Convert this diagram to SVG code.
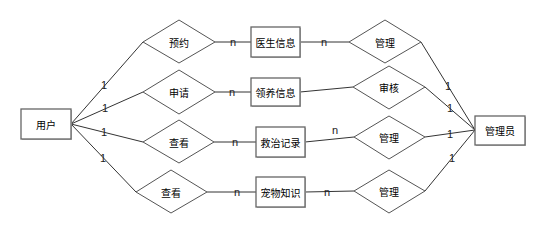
<svg xmlns="http://www.w3.org/2000/svg" width="552" height="242" viewBox="0 0 552 242">
<style>
.e{fill:#fff;stroke:#666;stroke-width:1.3}
.d{fill:#fff;stroke:#555;stroke-width:1}
.t{font-family:"Noto Sans CJK SC","Noto Sans",sans-serif;font-size:10px;fill:#000;text-anchor:middle;dominant-baseline:central}
.l{font-family:"Liberation Sans",Arial,sans-serif;font-size:11px;fill:#222;text-anchor:middle;dominant-baseline:central}
.c line{stroke:#333;stroke-width:1}
.s{fill:#bbb}
</style>
<rect width="552" height="242" fill="#fff"/>
<g class="c" id="connectors">
<line x1="71" y1="124" x2="143" y2="42"/>
<line x1="71" y1="124" x2="143" y2="92"/>
<line x1="71" y1="124" x2="143" y2="142"/>
<line x1="71" y1="124" x2="136" y2="192"/>
<line x1="215" y1="42" x2="251" y2="42"/>
<line x1="215" y1="92" x2="251" y2="92"/>
<line x1="214" y1="142" x2="256" y2="142"/>
<line x1="207" y1="192" x2="256" y2="192"/>
<line x1="300" y1="42" x2="349" y2="42"/>
<line x1="300" y1="92" x2="353" y2="87"/>
<line x1="305" y1="142" x2="354" y2="137"/>
<line x1="305" y1="192" x2="354" y2="191"/>
<line x1="421" y1="42" x2="475" y2="130"/>
<line x1="425" y1="87" x2="475" y2="130"/>
<line x1="425" y1="137" x2="475" y2="130"/>
<line x1="425" y1="191" x2="475" y2="130"/>
<text class="l" x="104" y="85">1</text>
<text class="l" x="105" y="108">1</text>
<text class="l" x="104" y="132">1</text>
<text class="l" x="103" y="158">1</text>
<text class="l" x="233" y="42">n</text>
<text class="l" x="232" y="92">n</text>
<text class="l" x="235" y="142">n</text>
<text class="l" x="237" y="192">n</text>
<text class="l" x="324" y="42">n</text>
<text class="l" x="335" y="130">n</text>
<text class="l" x="327" y="192">n</text>
<text class="l" x="448" y="86">1</text>
<text class="l" x="450" y="108">1</text>
<text class="l" x="450" y="134">1</text>
<text class="l" x="452" y="158">1</text>
</g>
<g id="user"><rect class="s" x="22" y="110" width="50" height="30"/><rect class="e" x="21" y="109" width="50" height="30"/><text class="t" x="46" y="124">用户</text></g>
<g id="admin"><rect class="s" x="476" y="117" width="50" height="29"/><rect class="e" x="475" y="116" width="50" height="29"/><text class="t" x="500" y="130">管理员</text></g>
<g id="doctor"><rect class="s" x="252" y="28" width="49" height="30"/><rect class="e" x="251" y="27" width="49" height="30"/><text class="t" x="275.5" y="42">医生信息</text></g>
<g id="adopt"><rect class="s" x="252" y="79" width="49" height="28"/><rect class="e" x="251" y="78" width="49" height="28"/><text class="t" x="275.5" y="92">领养信息</text></g>
<g id="rescue"><rect class="s" x="257" y="128" width="49" height="30"/><rect class="e" x="256" y="127" width="49" height="30"/><text class="t" x="280.5" y="142">救治记录</text></g>
<g id="knowledge"><rect class="s" x="257" y="178" width="49" height="30"/><rect class="e" x="256" y="177" width="49" height="30"/><text class="t" x="280.5" y="192">宠物知识</text></g>
<g id="d1"><polygon class="d" points="143,42 179,20 215,42 179,63"/><text class="t" x="179" y="42">预约</text></g>
<g id="d2"><polygon class="d" points="143,92 179,70 215,92 179,114"/><text class="t" x="179" y="92">申请</text></g>
<g id="d3"><polygon class="d" points="143,142 179,120 214,142 179,163"/><text class="t" x="179" y="142">查看</text></g>
<g id="d4"><polygon class="d" points="136,192 171,170 207,192 171,213"/><text class="t" x="171" y="192">查看</text></g>
<g id="d5"><polygon class="d" points="349,42 385,20 421,42 385,63"/><text class="t" x="385" y="42">管理</text></g>
<g id="d6"><polygon class="d" points="353,87 389,66 425,87 389,109"/><text class="t" x="389" y="87">审核</text></g>
<g id="d7"><polygon class="d" points="354,137 389,116 425,137 389,159"/><text class="t" x="389" y="137">管理</text></g>
<g id="d8"><polygon class="d" points="354,191 389,170 425,191 389,213"/><text class="t" x="389" y="191">管理</text></g>
</svg>
